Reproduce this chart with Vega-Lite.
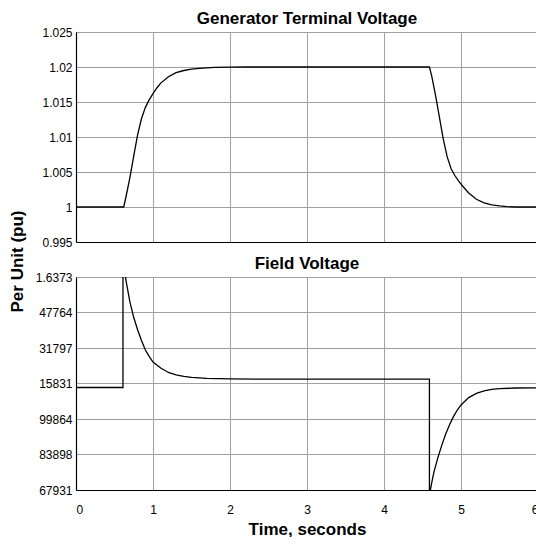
{
  "$schema": "https://vega.github.io/schema/vega-lite/v6.json",
  "padding": {"left": 8, "top": 10, "right": 0, "bottom": 0},
  "spacing": 35,
  "bounds": "flush",
  "background": "white",
  "config": {
    "view": {"stroke": null},
    "font": "Liberation Sans",
    "title": {"font": "Liberation Sans", "fontSize": 17, "fontWeight": "bold", "color": "black", "offset": -2},
    "axis": {
      "labelFont": "Liberation Sans", "labelFontSize": 12, "labelColor": "black",
      "gridColor": "#a0a0a0", "gridWidth": 1, "gridOpacity": 1,
      "domainColor": "#000000", "domainWidth": 1.2,
      "ticks": false, "labelPadding": 4,
      "titleFont": "Liberation Sans", "titleFontSize": 17, "titleFontWeight": "bold", "titleColor": "black"
    }
  },
  "datasets": {
    "voltage": [
      {"i": 0, "t": 0, "v": 1.0},
      {"i": 1, "t": 0.62, "v": 1.0},
      {"i": 2, "t": 0.65, "v": 1.0015},
      {"i": 3, "t": 0.7, "v": 1.0042},
      {"i": 4, "t": 0.75, "v": 1.0073},
      {"i": 5, "t": 0.8, "v": 1.0103},
      {"i": 6, "t": 0.85, "v": 1.0126},
      {"i": 7, "t": 0.9, "v": 1.0142},
      {"i": 8, "t": 0.95, "v": 1.0153},
      {"i": 9, "t": 1.0, "v": 1.0162},
      {"i": 10, "t": 1.05, "v": 1.017},
      {"i": 11, "t": 1.1, "v": 1.0177},
      {"i": 12, "t": 1.2, "v": 1.0186},
      {"i": 13, "t": 1.3, "v": 1.0192},
      {"i": 14, "t": 1.4, "v": 1.0195},
      {"i": 15, "t": 1.5, "v": 1.0197},
      {"i": 16, "t": 1.6, "v": 1.0198},
      {"i": 17, "t": 1.7, "v": 1.01988},
      {"i": 18, "t": 1.8, "v": 1.01994},
      {"i": 19, "t": 2.0, "v": 1.01998},
      {"i": 20, "t": 2.2, "v": 1.02},
      {"i": 21, "t": 4.59, "v": 1.02},
      {"i": 22, "t": 4.62, "v": 1.0187},
      {"i": 23, "t": 4.67, "v": 1.0159},
      {"i": 24, "t": 4.72, "v": 1.0128},
      {"i": 25, "t": 4.77, "v": 1.0097},
      {"i": 26, "t": 4.82, "v": 1.0072},
      {"i": 27, "t": 4.87, "v": 1.0055},
      {"i": 28, "t": 4.92, "v": 1.0045},
      {"i": 29, "t": 4.97, "v": 1.0037},
      {"i": 30, "t": 5.02, "v": 1.003},
      {"i": 31, "t": 5.1, "v": 1.002},
      {"i": 32, "t": 5.2, "v": 1.0011},
      {"i": 33, "t": 5.3, "v": 1.0006},
      {"i": 34, "t": 5.4, "v": 1.0003},
      {"i": 35, "t": 5.5, "v": 1.00015},
      {"i": 36, "t": 5.6, "v": 1.00005},
      {"i": 37, "t": 5.7, "v": 1.0},
      {"i": 38, "t": 6.0, "v": 1.0}
    ],
    "field": [
      {"i": 0, "t": 0, "v": 1.61403},
      {"i": 1, "t": 0.61, "v": 1.61403},
      {"i": 2, "t": 0.61, "v": 1.672},
      {"i": 3, "t": 0.65, "v": 1.662},
      {"i": 4, "t": 0.7, "v": 1.6525},
      {"i": 5, "t": 0.75, "v": 1.6455},
      {"i": 6, "t": 0.8, "v": 1.64},
      {"i": 7, "t": 0.85, "v": 1.6352},
      {"i": 8, "t": 0.9, "v": 1.631},
      {"i": 9, "t": 0.95, "v": 1.628},
      {"i": 10, "t": 1.0, "v": 1.6255},
      {"i": 11, "t": 1.1, "v": 1.6228},
      {"i": 12, "t": 1.2, "v": 1.6208},
      {"i": 13, "t": 1.3, "v": 1.6197},
      {"i": 14, "t": 1.4, "v": 1.619},
      {"i": 15, "t": 1.5, "v": 1.6186},
      {"i": 16, "t": 1.7, "v": 1.6181},
      {"i": 17, "t": 2.0, "v": 1.6179},
      {"i": 18, "t": 2.5, "v": 1.6178},
      {"i": 19, "t": 4.59, "v": 1.6178},
      {"i": 20, "t": 4.59, "v": 1.5655},
      {"i": 21, "t": 4.62, "v": 1.5712},
      {"i": 22, "t": 4.65, "v": 1.5762},
      {"i": 23, "t": 4.7, "v": 1.5825},
      {"i": 24, "t": 4.75, "v": 1.588},
      {"i": 25, "t": 4.8, "v": 1.593},
      {"i": 26, "t": 4.85, "v": 1.5972},
      {"i": 27, "t": 4.9, "v": 1.6008},
      {"i": 28, "t": 4.95, "v": 1.6038},
      {"i": 29, "t": 5.0, "v": 1.6062},
      {"i": 30, "t": 5.1, "v": 1.6095},
      {"i": 31, "t": 5.2, "v": 1.6114},
      {"i": 32, "t": 5.3, "v": 1.6125},
      {"i": 33, "t": 5.4, "v": 1.6132},
      {"i": 34, "t": 5.5, "v": 1.6135},
      {"i": 35, "t": 5.7, "v": 1.6138},
      {"i": 36, "t": 6.0, "v": 1.6139}
    ]
  },
  "vconcat": [
    {
      "title": {"text": "Generator Terminal Voltage"},
      "width": 462,
      "height": 210,
      "data": {"name": "voltage"},
      "mark": {"type": "line", "color": "black", "strokeWidth": 1.3, "clip": true},
      "encoding": {
        "x": {"field": "t", "type": "quantitative",
              "scale": {"domain": [0, 6], "nice": false},
              "axis": {"values": [0, 1, 2, 3, 4, 5, 6], "labels": false, "title": null}},
        "y": {"field": "v", "type": "quantitative",
              "scale": {"domain": [0.995, 1.025], "nice": false, "zero": false},
              "axis": {"values": [0.995, 1, 1.005, 1.01, 1.015, 1.02, 1.025], "format": "~g",
                       "title": "Per Unit (pu)", "titleX": -67, "titleY": 229, "titleAngle": -90,
                       "titleBaseline": "top", "titleAlign": "center", "titleAnchor": null}},
        "order": {"field": "i", "type": "quantitative"}
      }
    },
    {
      "title": {"text": "Field Voltage"},
      "width": 462,
      "height": 213,
      "data": {"name": "field"},
      "mark": {"type": "line", "color": "black", "strokeWidth": 1.3, "clip": true},
      "encoding": {
        "x": {"field": "t", "type": "quantitative",
              "scale": {"domain": [0, 6], "nice": false},
              "axis": {"values": [0, 1, 2, 3, 4, 5, 6], "title": "Time, seconds", "labelPadding": 14, "titlePadding": 6}},
        "y": {"field": "v", "type": "quantitative",
              "scale": {"domain": [1.567931, 1.66373], "nice": false, "zero": false},
              "axis": {"values": [1.567931, 1.583898, 1.599864, 1.615831, 1.631797, 1.647764, 1.66373],
                       "labelExpr": "['67931','83898','99864','15831','31797','47764','1.6373'][round(datum.index*6)]",
                       "title": null}},
        "order": {"field": "i", "type": "quantitative"}
      }
    }
  ]
}
